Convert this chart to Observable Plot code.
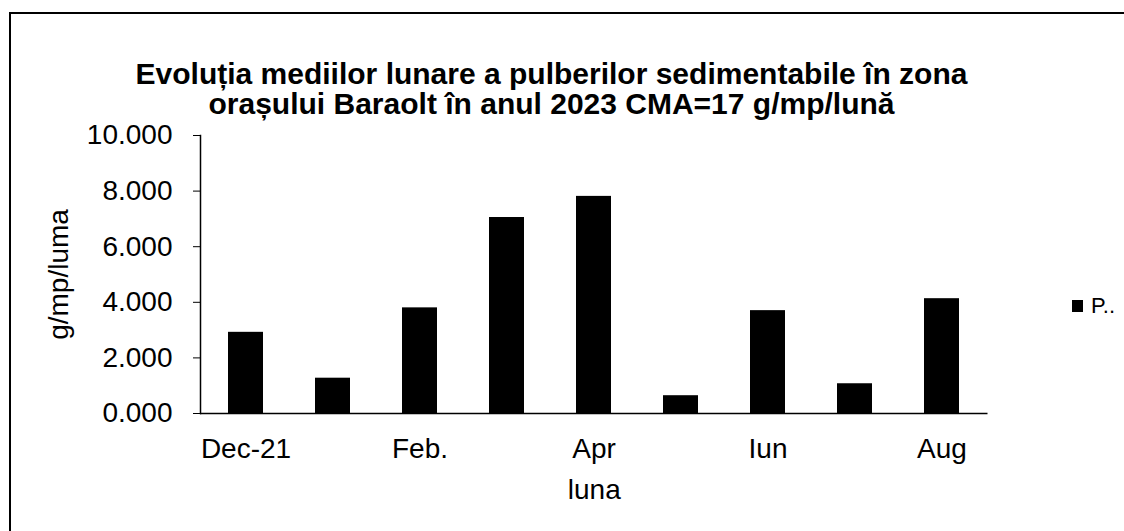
<!DOCTYPE html>
<html>
<head>
<meta charset="utf-8">
<script src="https://cdn.jsdelivr.net/npm/d3@7"></script>
<script src="https://cdn.jsdelivr.net/npm/@observablehq/plot@0.6"></script>
<style>
  html, body { margin: 0; padding: 0; background: #fff; }
  #wrap { position: relative; width: 1124px; height: 531px; overflow: hidden; background: #fff;
          font-family: "Liberation Sans", Arial, sans-serif; color: #000; }
  #frame { position: absolute; left: 9px; top: 12px; width: 1130px; height: 540px;
           border-left: 2px solid #000; border-top: 2px solid #000; box-sizing: border-box; }
  #title { position: absolute; left: 0; width: 1103px; top: 59px; text-align: center;
           font-weight: bold; font-size: 30px; line-height: 30px; }
  #chart { position: absolute; left: 0; top: 0; }
  #legend { position: absolute; left: 1072px; top: 293px; font-size: 22px; display: flex; align-items: center; }
  #legend .sw { width: 11px; height: 12px; background: #000; margin-right: 8px; }
</style>
</head>
<body>
<div id="wrap">
  <div id="frame"></div>
  <div id="chart"></div>
  <div id="title">Evoluția mediilor lunare a pulberilor sedimentabile în zona<br>orașului Baraolt în anul 2023 CMA=17 g/mp/lună</div>
  <div id="legend"><span class="sw"></span><span>P..</span></div>
</div>
<script>
const months = ["Dec-21", "Ian.", "Feb.", "Mar.", "Apr", "Mai", "Iun", "Iul", "Aug"];
const values = [2.92, 1.27, 3.80, 7.05, 7.81, 0.64, 3.70, 1.07, 4.13];
const xTickLabels = ["Dec-21", "Feb.", "Apr", "Iun", "Aug"];
const yTicks = [0, 2, 4, 6, 8, 10];

const data = months.map((m, i) => ({month: m, value: values[i]}));

const chart = Plot.plot({
  width: 1124,
  height: 531,
  marginLeft: 200,
  marginRight: 136.5,
  marginTop: 135,
  marginBottom: 118,
  style: {fontFamily: "'Liberation Sans', Arial, sans-serif", fontSize: "28px", color: "#000", background: "transparent"},
  x: {domain: months, paddingInner: 0.6, paddingOuter: 0.3, label: null},
  y: {domain: [0, 10], label: null},
  marks: [
    Plot.barY(data, {x: "month", y: "value", fill: "#000"}),
    Plot.ruleY([0], {stroke: "#000", strokeWidth: 1.5}),
    Plot.frame({anchor: "left", stroke: "#000", strokeWidth: 1.5}),
    Plot.axisY({ticks: yTicks, tickFormat: d3.format(".3f"), tickSize: 7, tickPadding: 21, fontSize: 28,
                label: "g/mp/luma", labelAnchor: "center", labelArrow: "none", labelOffset: 152}),
    Plot.axisX({ticks: xTickLabels, tickSize: 0, tickPadding: 25, fontSize: 28,
                label: "luna", labelAnchor: "center", labelArrow: "none", labelOffset: 85})
  ]
});
document.getElementById("chart").appendChild(chart);
</script>
</body>
</html>
